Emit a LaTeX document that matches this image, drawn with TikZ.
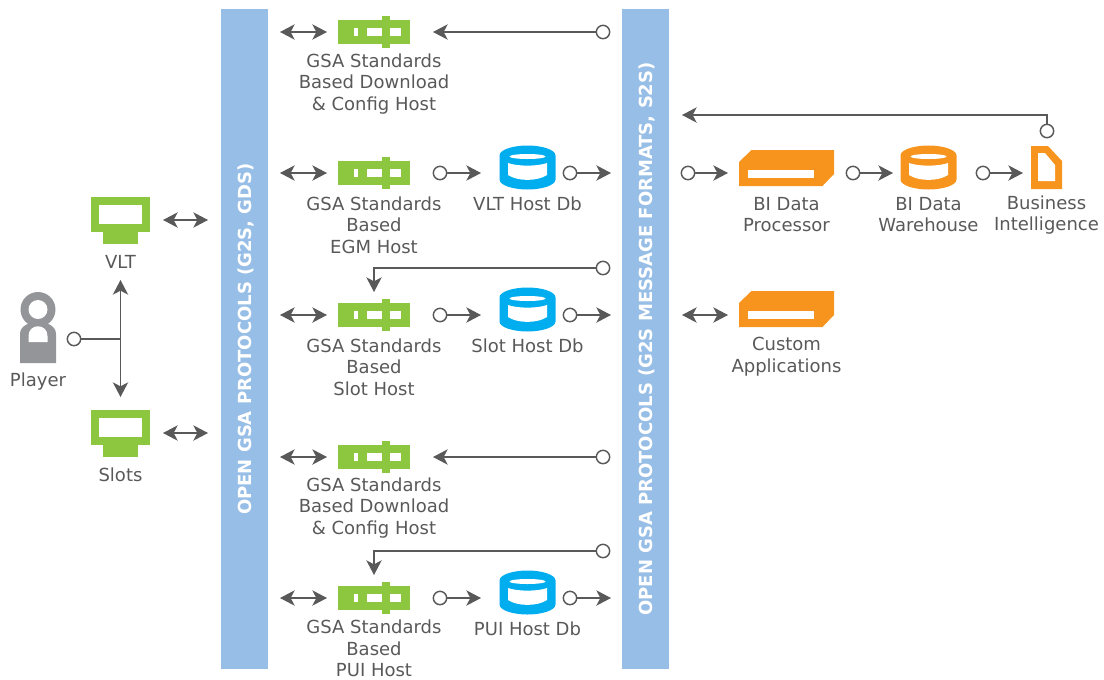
\documentclass[tikz,border=0pt]{standalone}
\usepackage{fontspec}
\setmainfont{DejaVu Sans}
\usetikzlibrary{arrows.meta}
\definecolor{linegray}{HTML}{595959}
\definecolor{playergray}{HTML}{939598}
\definecolor{hostgreen}{HTML}{8DC63F}
\definecolor{dbblue}{HTML}{00AEEF}
\definecolor{biorange}{HTML}{F7941E}
\definecolor{barblue}{HTML}{97BEE6}
\tikzset{
  hosticon/.pic={
    \fill[hostgreen] (-36,-12) rectangle (36,12);
    \fill[hostgreen] (8,-16) rectangle (16,16);
    \fill[white] (-20,-4) rectangle (-16,4);
    \fill[white] (-7,-4) rectangle (8,4);
    \fill[white] (16,-4) rectangle (27,4);
  },
  termicon/.pic={
    \fill[hostgreen] (-29.5,-17.5) rectangle (29.5,17.5);
    \fill[hostgreen] (-17.5,17.5) rectangle (17.5,29.5);
    \fill[white] (-21.5,-9.5) rectangle (21.5,9.5);
  },
  dbicon/.pic={
    \fill[pic actions] (-28,-12) .. controls (-28,-18) and (-14,-22) .. (0,-22) .. controls (14,-22) and (28,-18) .. (28,-12)
      -- (28,12) .. controls (28,18) and (14,22) .. (0,22) .. controls (-14,22) and (-28,18) .. (-28,12) -- cycle;
    \fill[white] (0,-11) ellipse [x radius=18, y radius=2.5];
    \fill[white] (-19.5,-4.5) .. controls (-10,-1) and (10,-1) .. (19.5,-4.5) -- (19.5,7.5)
      .. controls (10,14) and (-10,14) .. (-19.5,7.5) -- cycle;
  },
  procicon/.pic={
    \fill[biorange] (-47.5,-6) -- (-35,-18) -- (47.5,-18) -- (47.5,6) -- (36,18) -- (-47.5,18) -- cycle;
    \fill[white] (-39,2) rectangle (27,9.5);
  },
  docicon/.pic={
    \fill[biorange] (-15.5,-21.5) -- (1.5,-21.5) -- (15.5,-6.5) -- (15.5,21.5) -- (-15.5,21.5) -- cycle;
    \fill[white] (-8.5,-14.5) -- (-1.5,-14.5) -- (8.5,-2.5) -- (8.5,13.5) -- (-8.5,13.5) -- cycle;
  },
  playericon/.pic={
    \fill[playergray] (0,-29.5) circle (17.5);
    \fill[playergray] (-18,24) -- (-18,-5) .. controls (-18,-21) and (18,-21) .. (18,-5) -- (18,24) -- cycle;
    \fill[white] (0,-29.5) circle (9.5);
    \fill[white] (-9.5,3) -- (-9.5,-3) .. controls (-9.5,-16) and (9.5,-16) .. (9.5,-3) -- (9.5,3) -- cycle;
  }
}
\begin{document}
\begin{tikzpicture}[x=0.75pt, y=-0.75pt,
    every node/.style={inner sep=0pt, outer sep=0pt},
    lbl/.style={text=linegray, align=center, font=\fontsize{13.5}{16.1}\selectfont},
    bar/.style={fill=barblue, rotate=90, minimum width=495pt, minimum height=35.25pt, text=white, text height=10pt, text depth=0pt, font=\fontsize{13.5}{16}\selectfont\bfseries},
    ring/.style={circle, draw=linegray, line width=1.1pt, fill=white, minimum size=10pt},
    conn/.style={draw=linegray, line width=1.1pt, -{Stealth[length=11pt, width=11.5pt, inset=3pt]}},
    both/.style={draw=linegray, line width=1.1pt, {Stealth[length=11pt, width=11.5pt, inset=3pt]}-{Stealth[length=11pt, width=11.5pt, inset=3pt]}}]
    \useasboundingbox (0,0) rectangle (1104,679);

    \node[bar] (gds) at (244.5,339) {OPEN GSA PROTOCOLS (G2S, GDS)};
    \node[bar] (s2s) at (645.5,339) {OPEN GSA PROTOCOLS (G2S MESSAGE FORMATS, S2S)};

    \pic at (38,339) {playericon};
    \pic at (120.5,214.5) {termicon};
    \pic at (120.5,427) {termicon};
    \node[lbl] (player) at (38,382) {Player};
    \node[lbl] (vlt) at (120.5,262) {VLT};
    \node[lbl] (slots) at (120.5,475) {Slots};

    \pic at (374,32) {hosticon};
    \pic at (374,173) {hosticon};
    \pic at (374,315) {hosticon};
    \pic at (374,457) {hosticon};
    \pic at (374,598) {hosticon};
    \node[lbl] (dl1) at (374,84) {GSA Standards\\Based Download\\\& Config Host};
    \node[lbl] (egm) at (374,225) {GSA Standards\\Based\\EGM Host};
    \node[lbl] (slot) at (374,367) {GSA Standards\\Based\\Slot Host};
    \node[lbl] (dl2) at (374,508) {GSA Standards\\Based Download\\\& Config Host};
    \node[lbl] (pui) at (374,648.5) {GSA Standards\\Based\\PUI Host};

    \pic[fill=dbblue] at (527.5,167.5) {dbicon};
    \pic[fill=dbblue] at (527.5,309.5) {dbicon};
    \pic[fill=dbblue] at (527.5,592.5) {dbicon};
    \node[lbl] (vltdb) at (527.5,204) {VLT Host Db};
    \node[lbl] (slotdb) at (527.5,346) {Slot Host Db};
    \node[lbl] (puidb) at (527.5,629) {PUI Host Db};

    \pic at (786.5,168) {procicon};
    \pic at (786.5,309) {procicon};
    \pic[fill=biorange] at (928.5,167.5) {dbicon};
    \pic at (1046.5,167.5) {docicon};
    \node[lbl] (proc) at (786.5,214.5) {BI Data\\Processor};
    \node[lbl] (ware) at (928.5,214.5) {BI Data\\Warehouse};
    \node[lbl] (bi) at (1046.5,215) {Business\\Intelligence};
    \node[lbl] (custom) at (786.5,356.5) {Custom\\Applications};

    \node[ring] (rp) at (74,339) {};
    \coordinate (up) at (120.5,280);
    \coordinate (down) at (120.5,397);
    \coordinate (mid) at (120.5,339);
    \draw[both] (up) -- (down);
    \draw[draw=linegray, line width=1.1pt] (rp) -- (mid);

    \coordinate (a1) at (163,220);
    \coordinate (a2) at (208,220);
    \coordinate (b1) at (163,433);
    \coordinate (b2) at (208,433);
    \draw[both] (a1) -- (a2);
    \draw[both] (b1) -- (b2);

    \coordinate (h1a) at (280,32);
    \coordinate (h1b) at (327,32);
    \coordinate (h2a) at (280,173);
    \coordinate (h2b) at (327,173);
    \coordinate (h3a) at (280,315);
    \coordinate (h3b) at (327,315);
    \coordinate (h4a) at (280,457);
    \coordinate (h4b) at (327,457);
    \coordinate (h5a) at (280,598);
    \coordinate (h5b) at (327,598);
    \draw[both] (h1a) -- (h1b);
    \draw[both] (h2a) -- (h2b);
    \draw[both] (h3a) -- (h3b);
    \draw[both] (h4a) -- (h4b);
    \draw[both] (h5a) -- (h5b);

    \node[ring] (r1) at (603,32) {};
    \node[ring] (r4) at (603,457) {};
    \coordinate (t1) at (433,32);
    \coordinate (t4) at (433,457);
    \draw[conn] (r1) -- (t1);
    \draw[conn] (r4) -- (t4);

    \node[ring] (r3) at (603,268) {};
    \node[ring] (r5) at (603,551) {};
    \coordinate (t3) at (374,292);
    \coordinate (t5) at (374,575);
    \draw[conn] (r3) -| (t3);
    \draw[conn] (r5) -| (t5);

    \node[ring] (e1) at (440,173) {};
    \node[ring] (e2) at (570,173) {};
    \node[ring] (s1) at (440,315) {};
    \node[ring] (s2) at (570,315) {};
    \node[ring] (p1) at (440,598) {};
    \node[ring] (p2) at (570,598) {};
    \coordinate (e1t) at (481,173);
    \coordinate (e2t) at (611,173);
    \coordinate (s1t) at (481,315);
    \coordinate (s2t) at (611,315);
    \coordinate (p1t) at (481,598);
    \coordinate (p2t) at (611,598);
    \draw[conn] (e1) -- (e1t);
    \draw[conn] (e2) -- (e2t);
    \draw[conn] (s1) -- (s1t);
    \draw[conn] (s2) -- (s2t);
    \draw[conn] (p1) -- (p1t);
    \draw[conn] (p2) -- (p2t);

    \node[ring] (i1) at (688,173) {};
    \node[ring] (i2) at (853,173) {};
    \node[ring] (i3) at (983,173) {};
    \node[ring] (i4) at (1047,131) {};
    \coordinate (i1t) at (728,173);
    \coordinate (i2t) at (893,173);
    \coordinate (i3t) at (1023,173);
    \coordinate (i4t) at (682,115);
    \draw[conn] (i1) -- (i1t);
    \draw[conn] (i2) -- (i2t);
    \draw[conn] (i3) -- (i3t);
    \draw[conn] (i4) |- (i4t);

    \coordinate (c1) at (682,315);
    \coordinate (c2) at (728,315);
    \draw[both] (c1) -- (c2);
\end{tikzpicture}
\end{document}
